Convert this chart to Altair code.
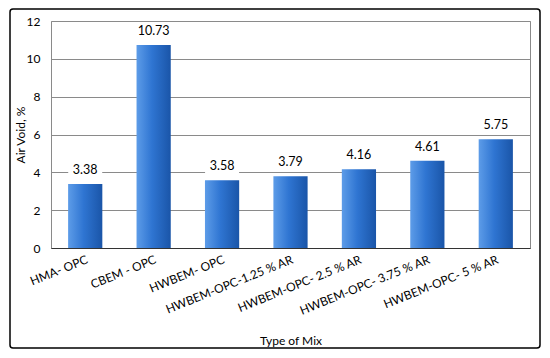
import altair as alt
import pandas as pd

mixes = ["HMA- OPC", "CBEM - OPC", "HWBEM- OPC", "HWBEM-OPC-1.25 % AR",
         "HWBEM-OPC- 2.5 % AR", "HWBEM-OPC- 3.75 % AR", "HWBEM-OPC- 5 % AR"]
air_void = [3.38, 10.73, 3.58, 3.79, 4.16, 4.61, 5.75]
y_ticks = [0, 2, 4, 6, 8, 10, 12]

df = pd.DataFrame({"mix": mixes, "air": air_void,
                   "label": [f"{v:.2f}" for v in air_void]})
frame = pd.DataFrame({"k": [0]})

FONT = "Lato"

x = alt.X("mix:N", sort=mixes,
          scale=alt.Scale(paddingInner=0.5, paddingOuter=0.25),
          axis=alt.Axis(title="Type of Mix", labelAngle=-22, labelAlign="right",
                        labelBaseline="top", labelPadding=6, ticks=False,
                        domainColor="#333333", domainWidth=1.2,
                        labelFontSize=12, labelColor="black", labelFont=FONT,
                        titleFontSize=12, titleFont=FONT, titleColor="black",
                        titleFontWeight="normal", titleY=92, titleBaseline="middle",
                        labelLimit=300, labelOverlap=False))
y = alt.Y("air:Q", scale=alt.Scale(domain=[0, 12]),
          axis=alt.Axis(title="Air Void, %", values=y_ticks, ticks=False, domain=False,
                        gridColor="#8a8a8a", gridWidth=1, labelPadding=11,
                        labelOverlap=False, tickCount=7,
                        labelFontSize=12, labelColor="black", labelFont=FONT,
                        titleFontSize=12, titleFont=FONT, titleColor="black",
                        titleFontWeight="normal", titleX=-31, titleBaseline="middle"))

grad = alt.Gradient(gradient="linear", x1=0, x2=1, y1=0, y2=0,
                    stops=[alt.GradientStop(offset=0, color="#5d9ce8"),
                           alt.GradientStop(offset=0.45, color="#2f75d2"),
                           alt.GradientStop(offset=1, color="#1a55a8")])

border = alt.Chart(frame).mark_rect(fill=None, stroke="black", strokeWidth=1.5,
                                    cornerRadius=3, clip=False).encode(
    x=alt.value(-41), x2=alt.value(489), y=alt.value(-12), y2=alt.value(327))

bars = alt.Chart(df).mark_bar(color=grad).encode(x=x, y=y)

boxes = alt.Chart(df).mark_point(shape="M-1,-0.42H1V0.42H-1Z", filled=True,
                                 color="white", opacity=1, size=1156,
                                 yOffset=-14).encode(x=alt.X("mix:N", sort=mixes), y="air:Q")

texts = alt.Chart(df).mark_text(fontSize=12.5, font=FONT, color="black",
                                yOffset=-14).encode(
    x=alt.X("mix:N", sort=mixes), y="air:Q", text="label:N")

chart = alt.layer(border, bars, boxes, texts).properties(
    width=479, height=227,
    autosize=alt.AutoSizeParams(type="none"),
    padding={"left": 43, "top": 13, "right": 12, "bottom": 102},
    background="white",
).configure_view(stroke="#8a8a8a", strokeWidth=1)

chart.save("out.html", embed_options={"renderer": "svg", "actions": False})
